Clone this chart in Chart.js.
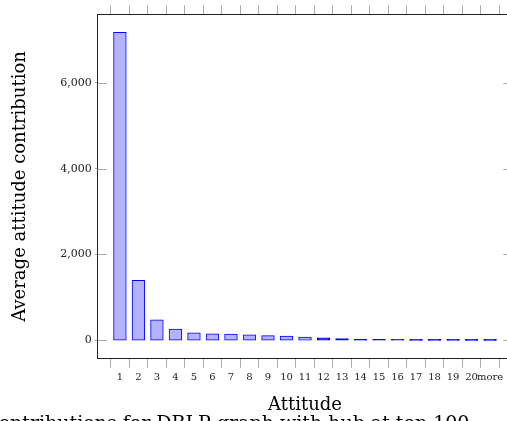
<!DOCTYPE html>
<html><head><meta charset="utf-8">
<script src="https://cdn.jsdelivr.net/npm/chart.js@4.4.1/dist/chart.umd.min.js"></script>
<style>
html,body{margin:0;padding:0;overflow:hidden;background:#fff;width:507px;height:421px;}
#wrap{position:relative;width:507px;height:421px;overflow:hidden;}
canvas{position:absolute;left:0;top:0;}
#cap{position:absolute;left:-12px;top:413px;font:19px 'DejaVu Serif';line-height:19px;white-space:nowrap;color:#000;}
</style></head><body>
<div id="wrap"><canvas id="c" width="530" height="421" style="width:530px;height:421px"></canvas><div id="cap">contributions for DBLP graph with hub at top 100</div></div>
<script>
const categories = ['1','2','3','4','5','6','7','8','9','10','11','12','13','14','15','16','17','18','19','20','more'];
const contributions = [7170,1390,465,250,165,142,133,117,102,86,65,47,28,15,11,8,6,5,4,3,2];
const yTickValues = [0,2000,4000,6000];

const serif = "'DejaVu Serif', serif";
const points = categories.map((c,i)=>({x:i+1,y:contributions[i]}));
const xTickValues = categories.map((c,i)=>i+1);

const innerTicks = {
  id:'innerTicks',
  afterDraw(chart){
    const {ctx, chartArea:a, scales:{y}} = chart;
    ctx.save(); ctx.strokeStyle='#aaa'; ctx.lineWidth=1;
    y.ticks.forEach(t=>{
      const py=Math.round(y.getPixelForValue(t.value))+0.5;
      ctx.beginPath();
      ctx.moveTo(a.left,py); ctx.lineTo(a.left+9,py);
      ctx.moveTo(a.right-9,py); ctx.lineTo(a.right,py);
      ctx.stroke();
    });
    ctx.restore();
  }
};

// bars thinner than a stroke look like solid blue dashes
function barFill(ctx){
  const y = ctx.chart.scales.y;
  const v = ctx.raw ? ctx.raw.y : 0;
  const h = y.getPixelForValue(0) - y.getPixelForValue(v);
  return h < 2.5 ? '#0000ff' : '#b3b3ff';
}

const xCommon = {type:'linear', min:-0.2, max:22.2, offset:false};
new Chart(document.getElementById('c'), {
  type:'bar',
  data:{datasets:[{data:points, backgroundColor:barFill, borderColor:'#0000ff', borderWidth:1, borderSkipped:false, barThickness:12, inflateAmount:0.7}]},
  options:{
    responsive:false, animation:false, devicePixelRatio:1,
    layout:{padding:0},
    plugins:{legend:{display:false}, tooltip:{enabled:false}},
    scales:{
      x:{...xCommon, position:'bottom',
        afterBuildTicks:s=>{s.ticks=xTickValues.map(v=>({value:v}));},
        afterFit:s=>{s.height=62.3;},
        grid:{drawOnChartArea:false, drawTicks:true, tickLength:9, color:'#aaa'},
        border:{color:'#222', width:1},
        ticks:{autoSkip:false, maxRotation:0, padding:4, color:'#222', font:{family:serif,size:10},
          callback:v=>categories[v-1]},
        title:{display:true, text:'Attitude', color:'#000', font:{family:serif,size:18}, padding:{top:0,bottom:5}}
      },
      x2:{...xCommon, position:'top',
        afterBuildTicks:s=>{s.ticks=xTickValues.map(v=>({value:v}));},
        afterFit:s=>{s.height=14.3;},
        grid:{drawOnChartArea:false, drawTicks:true, tickLength:9, color:'#aaa'},
        border:{color:'#222', width:1},
        ticks:{display:false}
      },
      y:{type:'linear', position:'left', min:-430, max:7600,
        afterBuildTicks:s=>{s.ticks=yTickValues.map(v=>({value:v}));},
        afterFit:s=>{s.width=97.7;},
        grid:{drawOnChartArea:false, drawTicks:true, tickLength:3, color:'#aaa'},
        border:{color:'#222', width:1},
        ticks:{padding:3, color:'#222', font:{family:serif,size:11},
          callback:v=>v.toLocaleString('en-US')},
        title:{display:true, text:'Average attitude contribution', color:'#000', font:{family:serif,size:18}, padding:{top:10,bottom:0}}
      },
      y2:{type:'linear', position:'right', min:-430, max:7600,
        afterBuildTicks:s=>{s.ticks=yTickValues.map(v=>({value:v}));},
        afterFit:s=>{s.width=17.7;},
        grid:{drawOnChartArea:false, drawTicks:true, tickLength:3, color:'#aaa'},
        border:{color:'#222', width:1},
        ticks:{display:false}
      }
    }
  },
  plugins:[innerTicks]
});
</script>
</body></html>
